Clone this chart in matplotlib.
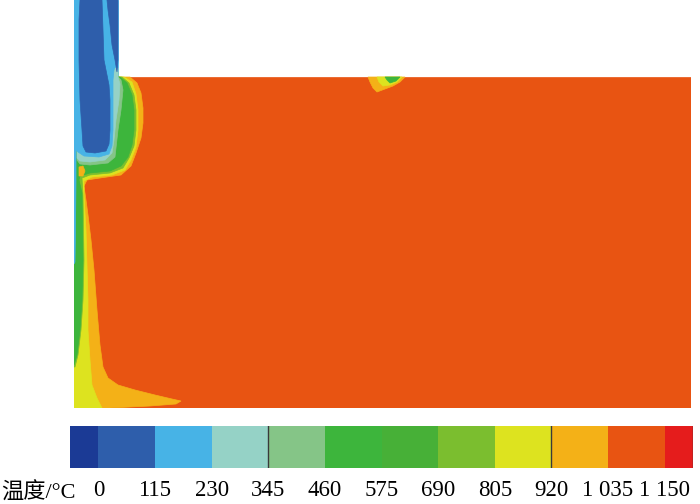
import matplotlib
matplotlib.use('Agg')
import matplotlib.pyplot as plt
from matplotlib.colors import ListedColormap, BoundaryNorm
from matplotlib.cm import ScalarMappable

# temperature bands (colour bar)
levels = [0, 115, 230, 345, 460, 575, 690, 805, 920, 1035, 1150]
level_labels = ['0', '115', '230', '345', '460', '575', '690', '805', '920', '1 035', '1 150']
band_colors = ['#1b3a95', '#2e5eab', '#47b3e6', '#95d2c6', '#85c587', '#3db53c',
               '#47b037', '#7bbe2f', '#dde31f', '#f4b117', '#e85412', '#e51c1c']

# geometry (domain units, origin bottom-left of the chamber)
chamber_x = [0, 617, 617, 0]
chamber_y = [0, 0, 331, 331]
pipe_x = [0, 44, 44, 0]
pipe_y = [331, 331, 408, 408]

# contour regions: (band index, outline)
band10_wall = [(44, 331), (56, 331), (63, 325), (67, 315), (69, 300), (69, 285), (67, 270), (62, 255),
               (57, 242), (47, 233), (26, 230), (13, 228), (10, 222), (12, 208), (14, 193), (17, 168),
               (20, 138), (23, 98), (26, 63), (29, 41), (34, 30), (44, 23), (61, 18), (81, 13), (98, 9),
               (107, 7), (102, 4), (76, 2), (36, 0), (0, 0), (0, 331)]
band10_spot = [(5, 241), (9, 242), (11, 237), (9, 232), (5, 232)]
band9_wall = [(50, 331), (58, 326), (62, 314), (64, 298), (64, 278), (62, 261), (57, 248), (51, 238),
              (38, 233), (18, 231), (10, 227), (10, 213), (12, 178), (13, 143), (14, 108), (14, 78),
              (16, 48), (18, 23), (23, 10), (28, 0), (0, 0), (0, 331)]
band8_wall = [(48, 331), (55, 325), (60, 313), (62, 298), (62, 278), (60, 262), (55, 250), (49, 240),
              (36, 235), (16, 233), (8, 230), (9, 213), (10, 148), (9, 108), (7, 78), (4, 53), (1, 41),
              (0, 41), (0, 331)]
band6_wall = [(46, 331), (53, 325), (58, 313), (60, 298), (60, 278), (58, 263), (54, 251), (47, 242),
              (36, 237), (16, 235), (6, 232), (5, 228), (8, 215), (9, 148), (8, 108), (6, 78), (3, 53),
              (0, 43), (0, 331)]
band5_jet = [(36, 336), (44, 336), (44, 331), (47, 328), (49, 318), (47, 298), (44, 278), (42, 260),
             (41, 251), (34, 245), (16, 243), (6, 244), (3, 248), (3, 268)]
band4_jet = [(37, 340), (44, 340), (44, 331), (46, 324), (45, 308), (42, 288), (40, 268), (38, 255),
             (31, 248), (16, 246), (6, 247), (3, 250), (3, 268)]
band3_jet = [(0, 408), (44, 408), (44, 348), (40, 338), (39, 328), (39, 308), (39, 278), (38, 262),
             (35, 254), (25, 251), (10, 252), (4, 256), (2, 258), (2, 228), (1.5, 178), (1, 146), (0, 144)]
band2_core = [(6, 408), (28, 408), (29, 378), (30, 348), (33, 333), (35, 323), (36, 308), (36, 278),
              (35, 264), (32, 257), (21, 255), (12, 256), (9, 262), (8, 278), (6, 308), (5, 348), (5, 388)]
band2_strip = [(33, 408), (44, 408), (44, 348), (43, 336), (41, 348), (38, 363), (36, 383), (34, 398)]
band10_top = [(294, 331), (331, 331), (326, 326), (319, 322), (311, 319), (303, 316), (299, 320), (296, 326)]
band9_top = [(303, 331), (328, 331), (323, 326), (316, 323), (309, 322), (305, 326)]
band6_top = [(311, 331), (326, 331), (322, 327), (316, 325), (313, 328)]

regions = [(9, band10_wall), (8, band9_wall), (7, band8_wall), (5, band6_wall), (9, band10_spot),
           (4, band5_jet), (3, band4_jet), (2, band3_jet), (1, band2_core), (1, band2_strip),
           (9, band10_top), (8, band9_top), (5, band6_top)]

fig = plt.figure(figsize=(7, 5.04), dpi=100)

ax = fig.add_axes([74 / 700, 96 / 504, 617 / 700, 408 / 504])
ax.set_xlim(0, 617)
ax.set_ylim(0, 408)
ax.axis('off')

ax.fill(chamber_x, chamber_y, color=band_colors[10], lw=0.5)
ax.fill(pipe_x, pipe_y, color=band_colors[2], lw=0.5)
for idx, poly in regions:
    xs = [p[0] for p in poly]
    ys = [p[1] for p in poly]
    ax.fill(xs, ys, color=band_colors[idx], lw=0.5)

# colour bar
cax = fig.add_axes([70 / 700, 36 / 504, 623 / 700, 42 / 504])
cmap = ListedColormap(band_colors)
bounds = [levels[0] - 57.5] + levels + [levels[-1] + 57.5]
norm = BoundaryNorm(bounds, cmap.N)
cb = fig.colorbar(ScalarMappable(norm=norm, cmap=cmap), cax=cax, orientation='horizontal',
                  spacing='proportional', ticks=levels)
cb.set_ticklabels(level_labels)
cb.minorticks_off()
cb.outline.set_visible(False)
cax.tick_params(which='both', length=0, pad=9, labelsize=16.5)
for t in cax.get_xticklabels():
    t.set_fontfamily(['Liberation Serif', 'Noto Sans CJK SC'])
for v in [345, 920, bounds[-1]]:
    cax.axvline(v, color='#3a3a3a', lw=1)

fig.text(1 / 700, 5 / 504, '温度/°C', fontsize=16, va='baseline',
         family=['Liberation Serif', 'Noto Sans CJK SC'])

fig.savefig('out.png', dpi=100)
